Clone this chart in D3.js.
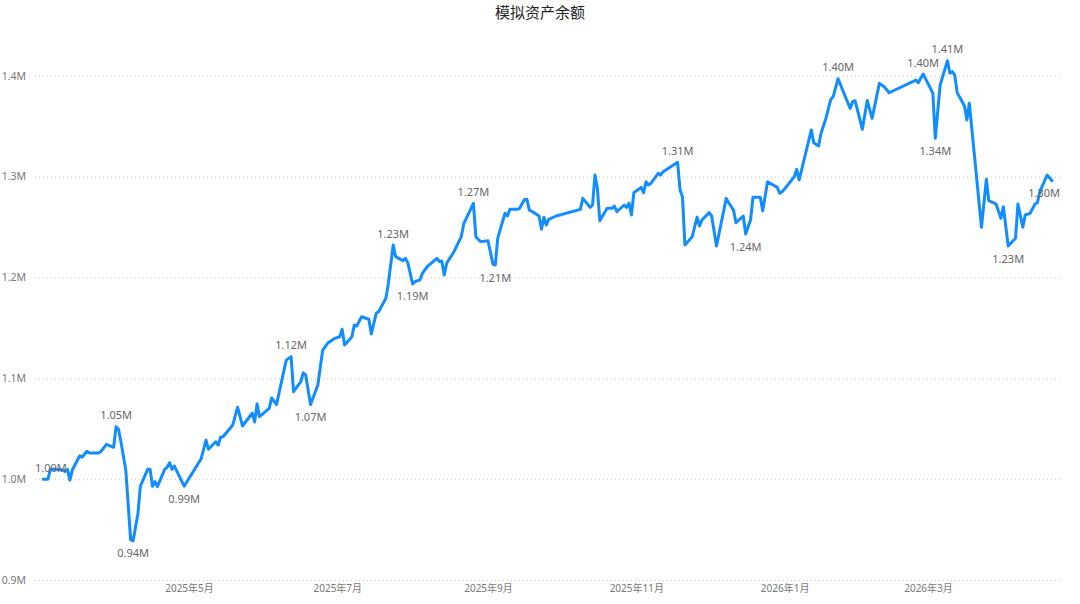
<!DOCTYPE html>
<html><head><meta charset="utf-8">
<script src="https://cdn.jsdelivr.net/npm/d3@7"></script>
<style>
body{margin:0;background:#fff;}
svg{display:block;}
text{font-family:"Segoe UI","Noto Sans","Noto Sans CJK SC",sans-serif;}
</style>
</head><body>
<svg id="c" width="1080" height="604"></svg>
<script>
const chartTitle = "模拟资产余额";

const dates = [
"2025-03-02","2025-03-04","2025-03-05","2025-03-07","2025-03-10","2025-03-11","2025-03-12","2025-03-13","2025-03-14","2025-03-17",
"2025-03-18","2025-03-20","2025-03-21","2025-03-25","2025-03-26","2025-03-28","2025-03-31","2025-04-01","2025-04-02","2025-04-03",
"2025-04-05","2025-04-07","2025-04-08","2025-04-10","2025-04-11","2025-04-14","2025-04-15","2025-04-16","2025-04-17","2025-04-18",
"2025-04-21","2025-04-22","2025-04-23","2025-04-24","2025-04-25","2025-04-29","2025-05-06","2025-05-08","2025-05-09","2025-05-12",
"2025-05-13","2025-05-14","2025-05-15","2025-05-19","2025-05-21","2025-05-23","2025-05-27","2025-05-28","2025-05-29","2025-05-30",
"2025-06-03","2025-06-04","2025-06-06","2025-06-10","2025-06-12","2025-06-13","2025-06-16","2025-06-17","2025-06-18","2025-06-20",
"2025-06-23","2025-06-25","2025-06-27","2025-06-30","2025-07-02","2025-07-03","2025-07-04","2025-07-07","2025-07-08","2025-07-09",
"2025-07-11","2025-07-14","2025-07-15","2025-07-17","2025-07-18","2025-07-21","2025-07-22","2025-07-24","2025-07-25","2025-07-28",
"2025-07-29","2025-07-30","2025-08-01","2025-08-02","2025-08-04","2025-08-05","2025-08-07","2025-08-11","2025-08-12","2025-08-13",
"2025-08-14","2025-08-15","2025-08-18","2025-08-21","2025-08-22","2025-08-26","2025-08-27","2025-08-28","2025-08-29","2025-09-01",
"2025-09-03","2025-09-04","2025-09-05","2025-09-08","2025-09-09","2025-09-10","2025-09-13","2025-09-14","2025-09-16","2025-09-17",
"2025-09-18","2025-09-19","2025-09-22","2025-09-23","2025-09-24","2025-09-25","2025-09-26","2025-09-29","2025-10-09","2025-10-10",
"2025-10-13","2025-10-14","2025-10-15","2025-10-16","2025-10-17","2025-10-20","2025-10-22","2025-10-23","2025-10-24","2025-10-27",
"2025-10-28","2025-10-29","2025-10-30","2025-10-31","2025-11-03","2025-11-04","2025-11-05","2025-11-06","2025-11-07","2025-11-10",
"2025-11-11","2025-11-12","2025-11-18","2025-11-19","2025-11-20","2025-11-21","2025-11-24","2025-11-26","2025-11-27","2025-11-28",
"2025-12-01","2025-12-02","2025-12-04","2025-12-08","2025-12-09","2025-12-11","2025-12-12","2025-12-15","2025-12-16","2025-12-18",
"2025-12-19","2025-12-22","2025-12-23","2025-12-25","2025-12-29","2025-12-30","2025-12-31","2026-01-02","2026-01-05","2026-01-06",
"2026-01-07","2026-01-12","2026-01-13","2026-01-15","2026-01-16","2026-01-18","2026-01-20","2026-01-21","2026-01-23","2026-01-25",
"2026-01-28","2026-01-29","2026-01-30","2026-02-02","2026-02-04","2026-02-06","2026-02-09","2026-02-11","2026-02-13","2026-02-24",
"2026-02-25","2026-02-27","2026-03-02","2026-03-03","2026-03-04","2026-03-06","2026-03-09","2026-03-10","2026-03-11","2026-03-12",
"2026-03-13","2026-03-16","2026-03-17","2026-03-18","2026-03-23","2026-03-25","2026-03-26","2026-03-29","2026-03-31","2026-04-01",
"2026-04-03","2026-04-06","2026-04-07","2026-04-09","2026-04-10","2026-04-12","2026-04-14","2026-04-15","2026-04-16","2026-04-19",
"2026-04-21"
];

// balance in millions
const values = [
1.000,1.000,1.010,1.0097,1.009,1.0077,1.0097,0.999,1.009,1.023,
1.0217,1.0276,1.026,1.026,1.028,1.0345,1.0316,1.052,1.0494,1.037,
1.009,0.9397,0.9387,0.966,0.993,1.0097,1.0097,0.993,0.9975,0.9925,
1.0097,1.0117,1.0163,1.0097,1.013,0.993,1.0203,1.0388,1.0296,1.037,
1.0338,1.0415,1.042,1.0537,1.0713,1.0527,1.0653,1.0567,1.0745,1.062,
1.0702,1.0805,1.074,1.118,1.1214,1.0867,1.0966,1.1055,1.1033,1.074,
1.0933,1.128,1.1347,1.1396,1.1412,1.1486,1.133,1.1412,1.1528,1.1518,
1.161,1.1585,1.1439,1.1644,1.166,1.1793,1.194,1.2321,1.2206,1.2166,
1.219,1.2146,1.1935,1.1958,1.1975,1.204,1.2106,1.219,1.2156,1.2163,
1.2024,1.214,1.2255,1.2404,1.253,1.2735,1.2404,1.2378,1.2355,1.2364,
1.2133,1.2123,1.239,1.2636,1.261,1.2675,1.2675,1.2685,1.2772,1.2774,
1.2668,1.2656,1.2609,1.2477,1.2596,1.252,1.2576,1.2609,1.2675,1.2784,
1.2695,1.2718,1.3015,1.2883,1.2563,1.2685,1.2685,1.2708,1.2651,1.2718,
1.2695,1.2735,1.2619,1.284,1.2893,1.284,1.2949,1.2916,1.2933,1.3032,
1.3015,1.3048,1.3141,1.2867,1.28,1.2321,1.2404,1.2596,1.251,1.2569,
1.2642,1.2609,1.2311,1.2784,1.274,1.2668,1.2543,1.2609,1.243,1.2569,
1.2794,1.2794,1.2661,1.2949,1.2893,1.2834,1.285,1.2906,1.2999,1.3072,
1.2966,1.3462,1.3336,1.3303,1.3429,1.3577,1.3765,1.3792,1.397,1.3851,
1.3676,1.3742,1.3752,1.3468,1.3755,1.3577,1.3924,1.389,1.3831,1.3956,
1.393,1.4016,1.3875,1.3825,1.3379,1.3908,1.4149,1.4025,1.404,1.4007,
1.3832,1.37,1.3561,1.3727,1.2497,1.2973,1.2761,1.2728,1.2586,1.2701,
1.2311,1.2388,1.2728,1.2497,1.2619,1.2635,1.2728,1.2741,1.285,1.3015,
1.2959
];

const yTicks = [0.9, 1.0, 1.1, 1.2, 1.3, 1.4];
const yTickLabels = ["0.9M", "1.0M", "1.1M", "1.2M", "1.3M", "1.4M"];
const xTickDates = ["2025-05-01", "2025-07-01", "2025-09-01", "2025-11-01", "2026-01-01", "2026-03-01"];
const xTickLabels = ["2025年5月", "2025年7月", "2025年9月", "2025年11月", "2026年1月", "2026年3月"];

const labelDates = ["2025-03-02","2025-04-01","2025-04-08","2025-04-29","2025-06-12","2025-06-20","2025-07-24","2025-08-01","2025-08-26","2025-09-04","2025-11-18","2025-12-16","2026-01-23","2026-02-27","2026-03-09","2026-03-04","2026-04-03","2026-04-21"];
const labelSides = ["above","above","below","below","above","below","above","below","above","below","above","below","above","above","above","below","below","below"];

const parse = d3.timeParse("%Y-%m-%d");
const data = dates.map((d, i) => ({date: parse(d), value: values[i]}));

const W = 1080, H = 604;
const plotLeft = 35, plotRight = 1060, plotBottom = 580;

const svg = d3.select("#c");
svg.append("rect").attr("width", W).attr("height", H).attr("fill", "#fff");

// time scale calibrated on month ticks
const calib = d3.scaleTime().domain([parse("2025-05-01"), parse("2026-03-01")]).range([189, 928]);
const x = d3.scaleTime().domain([calib.invert(plotLeft), calib.invert(plotRight)]).range([plotLeft, plotRight]);
const y = d3.scaleLinear().domain([0.9, 1.4]).range([plotBottom, 75.7]);

// title
svg.append("text").attr("x", W / 2).attr("y", 18).attr("text-anchor", "middle")
  .style("font-family", "'Noto Sans CJK SC','Noto Sans',sans-serif")
  .style("font-size", "15px").attr("fill", "#252423").text(chartTitle);

// y axis + gridlines
const yAxis = svg.append("g").attr("transform", `translate(${plotLeft},0)`)
  .call(d3.axisLeft(y).tickValues(yTicks).tickSize(-(plotRight - plotLeft)).tickPadding(9)
    .tickFormat((d, i) => yTickLabels[i]));
yAxis.select(".domain").remove();
yAxis.selectAll(".tick line").attr("stroke", "#c8c8c8").attr("stroke-dasharray", "1,3").attr("stroke-width", 1);
yAxis.selectAll(".tick text").attr("fill", "#777").style("font-size", "10.5px");

// x axis
const xAxis = svg.append("g").attr("transform", `translate(0,${plotBottom})`)
  .call(d3.axisBottom(x).tickValues(xTickDates.map(parse)).tickSize(0).tickPadding(5)
    .tickFormat((d, i) => xTickLabels[i]));
xAxis.select(".domain").remove();
xAxis.selectAll(".tick text").attr("fill", "#777").style("font-size", "10px")
  .style("font-family", "'Segoe UI','Noto Sans','Noto Sans CJK SC',sans-serif");

// line
const line = d3.line().x(d => x(d.date)).y(d => y(d.value));
svg.append("path").datum(data).attr("d", line).attr("fill", "none")
  .attr("stroke", "#118DFF").attr("stroke-width", 3).attr("stroke-linejoin", "round").attr("stroke-linecap", "round");

// data labels
const byDate = new Map(data.map((d, i) => [dates[i], d]));
const fmt = v => v.toFixed(2) + "M";
labelDates.forEach((ld, i) => {
  const d = byDate.get(ld);
  if (!d) return;
  const t = svg.append("text")
    .attr("text-anchor", "middle").attr("dominant-baseline", "central")
    .attr("fill", "#666").style("font-size", "11px")
    .attr("y", y(d.value) + (labelSides[i] === "above" ? -12 : 12))
    .text(fmt(d.value));
  const w = t.node().getComputedTextLength();
  const cx = Math.max(plotLeft + w / 2, Math.min(plotRight - w / 2, x(d.date)));
  t.attr("x", cx);
});
</script>
</body></html>
